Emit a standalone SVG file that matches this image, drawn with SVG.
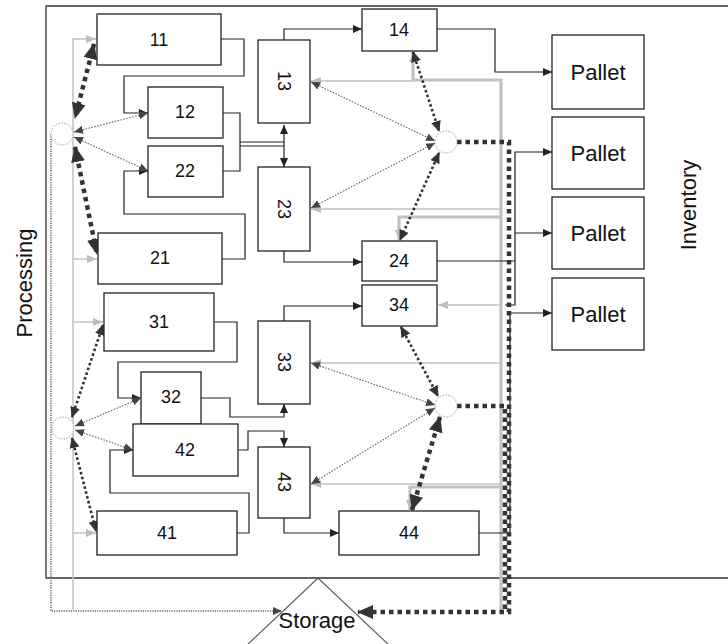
<svg xmlns="http://www.w3.org/2000/svg" width="728" height="644" viewBox="0 0 728 644">
<style>
.bx{fill:#fff;stroke:#222;stroke-width:1.3}
.t{font-family:"Liberation Sans",Arial,sans-serif;font-size:18px;fill:#111;text-anchor:middle;dominant-baseline:central}
.tp{font-size:22px}
.ln{fill:none;stroke:#222;stroke-width:1.2}
.gl{fill:none;stroke:#c2c2c2;stroke-width:1.5}
.gt{fill:none;stroke:#c2c2c2;stroke-width:3.2}
.gd{fill:none;stroke:#8a8a8a;stroke-width:2.2;stroke-dasharray:1.2 1.2}
.dk{fill:none;stroke:#333;stroke-width:4.5;stroke-dasharray:4.5 4}
.dm{fill:none;stroke:#333;stroke-width:2.6;stroke-dasharray:2.6 2.4}
.dt{fill:none;stroke:#666;stroke-width:1.1;stroke-dasharray:1.6 1.4}
.cj{fill:#fff;stroke:#999;stroke-width:1;stroke-dasharray:1.5 1.5}
</style>
<defs>
<marker id="ab" markerWidth="9" markerHeight="8" refX="9" refY="4" orient="auto-start-reverse" markerUnits="userSpaceOnUse"><path d="M0,0 L9,4 L0,8 z" fill="#222"/></marker>
<marker id="ag" markerWidth="10" markerHeight="8" refX="10" refY="4" orient="auto-start-reverse" markerUnits="userSpaceOnUse"><path d="M0,0 L10,4 L0,8 z" fill="#bdbdbd"/></marker>
<marker id="abig" markerWidth="16" markerHeight="14" refX="15" refY="7" orient="auto-start-reverse" markerUnits="userSpaceOnUse"><path d="M0,0 L16,7 L0,14 z" fill="#333"/></marker>
<marker id="amed" markerWidth="11" markerHeight="10" refX="10" refY="5" orient="auto-start-reverse" markerUnits="userSpaceOnUse"><path d="M0,0 L11,5 L0,10 z" fill="#333"/></marker>
<marker id="asm" markerWidth="9" markerHeight="8" refX="9" refY="4" orient="auto-start-reverse" markerUnits="userSpaceOnUse"><path d="M0,0 L9,4 L0,8 z" fill="#444"/></marker>
</defs>
<rect width="728" height="644" fill="#fff"/>

<g id="frame">
<path d="M728,6 H46 V578 H728" fill="none" stroke="#333" stroke-width="1.3"/>
<text class="t tp" transform="translate(24,283) rotate(-90)">Processing</text>
<text class="t tp" transform="translate(688,205) rotate(-90)">Inventory</text>
</g>

<g id="connectors">
<!-- light gray feed lines -->
<path class="gl" d="M73,610 V39 H96" marker-end="url(#ag)"/>
<path class="gl" d="M73,259 H97" marker-end="url(#ag)"/>
<path class="gl" d="M73,322 H103" marker-end="url(#ag)"/>
<path class="gl" d="M73,533 H96" marker-end="url(#ag)"/>
<path class="gt" d="M501,610 V80 H413 V52" marker-end="url(#ag)"/>
<path class="gl" d="M413,81 H311" marker-end="url(#ag)"/>
<path class="gl" d="M501,209 H311" marker-end="url(#ag)"/>
<path class="gt" d="M501,217 H399 V240" marker-end="url(#ag)"/>
<path class="gl" d="M501,305 H438" marker-end="url(#ag)"/>
<path class="gl" d="M501,363 H311" marker-end="url(#ag)"/>
<path class="gl" d="M501,484 H311" marker-end="url(#ag)"/>
<path class="gt" d="M501,487 H410 V510" marker-end="url(#ag)"/>

<!-- gray dotted return to storage -->
<path class="gd" d="M51,134 V611 H282" marker-end="url(#asm)"/>

<!-- black process lines -->
<path class="ln" d="M221,39 H244 V76 H124 V113 H148" marker-end="url(#ab)"/>
<path class="ln" d="M223,113 H240 V171 H223"/>
<path class="ln" d="M240,142 H284 M240,146 H284"/>
<path class="ln" d="M284,125 V167" marker-start="url(#ab)" marker-end="url(#ab)"/>
<path class="ln" d="M222,259 H245 V214 H124 V171 H148" marker-end="url(#ab)"/>
<path class="ln" d="M284,40 V29 H362" marker-end="url(#ab)"/>
<path class="ln" d="M437,29 H495 V72 H552" marker-end="url(#ab)"/>
<path class="ln" d="M284,251 V262 H362" marker-end="url(#ab)"/>
<path class="ln" d="M437,261 H515"/>
<path class="ln" d="M505,305 H515 V152 H552" marker-end="url(#ab)"/>
<path class="ln" d="M515,233 H552" marker-end="url(#ab)"/>
<path class="ln" d="M479,533 H510 V313 H552" marker-end="url(#ab)"/>
<path class="ln" d="M214,322 H237 V362 H118 V398 H141" marker-end="url(#ab)"/>
<path class="ln" d="M201,398 H230 V417 H284 V404" marker-end="url(#ab)"/>
<path class="ln" d="M238,450 H248 V431 H284 V447" marker-end="url(#ab)"/>
<path class="ln" d="M237,533 H249 V493 H110 V450 H133" marker-end="url(#ab)"/>
<path class="ln" d="M284,321 V306 H362" marker-end="url(#ab)"/>
<path class="ln" d="M284,518 V533 H339" marker-end="url(#ab)"/>

<!-- thick dark dotted -->
<path class="dk" d="M457,142 H509 V612 H358" marker-end="url(#abig)"/>
<path class="dk" d="M457,406 H505 V612"/>
<path class="dk" d="M94,44 L75,118" marker-start="url(#abig)" marker-end="url(#abig)"/>
<path class="dk" d="M75,147 L97,254" marker-start="url(#abig)" marker-end="url(#abig)"/>
<path class="dk" d="M440,417 L412,510" marker-start="url(#abig)" marker-end="url(#abig)"/>

<!-- medium dark dotted -->
<path class="dm" d="M413,52 L439,131" marker-start="url(#amed)" marker-end="url(#amed)"/>
<path class="dm" d="M439,153 L400,240" marker-start="url(#amed)" marker-end="url(#amed)"/>
<path class="dm" d="M401,327 L438,396" marker-start="url(#amed)" marker-end="url(#amed)"/>
<path class="dm" d="M103,325 L72,417" marker-start="url(#amed)" marker-end="url(#amed)"/>
<path class="dm" d="M72,438 L96,531" marker-start="url(#amed)" marker-end="url(#amed)"/>

<!-- thin gray dotted -->
<path class="dt" d="M74,132 L148,113" marker-start="url(#asm)" marker-end="url(#asm)"/>
<path class="dt" d="M74,137 L148,171" marker-start="url(#asm)" marker-end="url(#asm)"/>
<path class="dt" d="M311,82 L435,141" marker-start="url(#asm)" marker-end="url(#asm)"/>
<path class="dt" d="M311,208 L435,143" marker-start="url(#asm)" marker-end="url(#asm)"/>
<path class="dt" d="M75,426 L141,398" marker-start="url(#asm)" marker-end="url(#asm)"/>
<path class="dt" d="M75,430 L133,450" marker-start="url(#asm)" marker-end="url(#asm)"/>
<path class="dt" d="M311,363 L435,405" marker-start="url(#asm)" marker-end="url(#asm)"/>
<path class="dt" d="M311,484 L435,408" marker-start="url(#asm)" marker-end="url(#asm)"/>
</g>

<g id="j1"><circle class="cj" cx="62" cy="134" r="11"/></g>
<g id="j2"><circle class="cj" cx="446" cy="142" r="11"/></g>
<g id="j3"><circle class="cj" cx="63" cy="428" r="11"/></g>
<g id="j4"><circle class="cj" cx="446" cy="406" r="11"/></g>

<g id="n11"><rect class="bx" x="97" y="14" width="124" height="51"/><text class="t" x="159" y="40">11</text></g>
<g id="n12"><rect class="bx" x="148" y="87" width="75" height="51"/><text class="t" x="185" y="112">12</text></g>
<g id="n22"><rect class="bx" x="148" y="146" width="75" height="51"/><text class="t" x="185" y="171">22</text></g>
<g id="n21"><rect class="bx" x="98" y="233" width="124" height="51"/><text class="t" x="160" y="258">21</text></g>
<g id="n31"><rect class="bx" x="104" y="293" width="110" height="58"/><text class="t" x="159" y="322">31</text></g>
<g id="n32"><rect class="bx" x="141" y="372" width="60" height="52"/><text class="t" x="171" y="397">32</text></g>
<g id="n42"><rect class="bx" x="133" y="424" width="105" height="52"/><text class="t" x="185" y="450">42</text></g>
<g id="n41"><rect class="bx" x="97" y="511" width="140" height="44"/><text class="t" x="167" y="533">41</text></g>
<g id="n13"><rect class="bx" x="258" y="40" width="52" height="83"/><text class="t" transform="translate(284,81) rotate(90)">13</text></g>
<g id="n23"><rect class="bx" x="258" y="167" width="52" height="84"/><text class="t" transform="translate(284,209) rotate(90)">23</text></g>
<g id="n33"><rect class="bx" x="258" y="321" width="52" height="83"/><text class="t" transform="translate(284,362) rotate(90)">33</text></g>
<g id="n43"><rect class="bx" x="258" y="447" width="52" height="71"/><text class="t" transform="translate(284,482) rotate(90)">43</text></g>
<g id="n14"><rect class="bx" x="362" y="9" width="75" height="42"/><text class="t" x="399" y="30">14</text></g>
<g id="n24"><rect class="bx" x="362" y="241" width="75" height="40"/><text class="t" x="399" y="261">24</text></g>
<g id="n34"><rect class="bx" x="362" y="285" width="75" height="41"/><text class="t" x="399" y="305">34</text></g>
<g id="n44"><rect class="bx" x="339" y="511" width="140" height="44"/><text class="t" x="409" y="533">44</text></g>
<g id="p1"><rect class="bx" x="552" y="35" width="92" height="74"/><text class="t tp" x="598" y="72">Pallet</text></g>
<g id="p2"><rect class="bx" x="552" y="117" width="92" height="72"/><text class="t tp" x="598" y="153">Pallet</text></g>
<g id="p3"><rect class="bx" x="552" y="197" width="92" height="72"/><text class="t tp" x="598" y="233">Pallet</text></g>
<g id="p4"><rect class="bx" x="552" y="278" width="92" height="72"/><text class="t tp" x="598" y="314">Pallet</text></g>

<g id="storage">
<path d="M246,646 L318,578 L390,646" fill="none" stroke="#555" stroke-width="1.1"/>
<text class="t tp" x="317" y="620">Storage</text>
</g>
</svg>
